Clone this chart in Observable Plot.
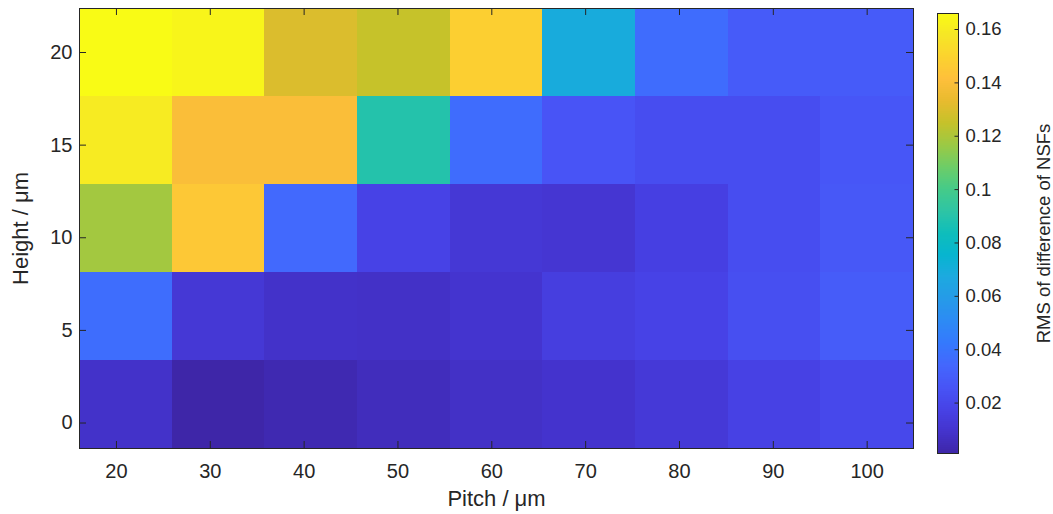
<!DOCTYPE html>
<html><head><meta charset="utf-8">
<script src="https://cdn.jsdelivr.net/npm/d3@7"></script>
<script src="https://cdn.jsdelivr.net/npm/@observablehq/plot@0.6"></script>
<style>
html,body{margin:0;padding:0;background:#fff;}
#chart{display:flex;flex-direction:row;width:1053px;height:514px;}
#chart svg{display:block;}
</style></head><body><div id="chart"></div>
<script>
// ---- data ----
const pitchTicks = [20, 30, 40, 50, 60, 70, 80, 90, 100];
const heightTicks = [0, 5, 10, 15, 20];
const colorTicks = [0.02, 0.04, 0.06, 0.08, 0.1, 0.12, 0.14, 0.16];
// image grid (cell centres, as placed by imagesc)
const pitchCenters = [21, 30.875, 40.75, 50.625, 60.5, 70.375, 80.25, 90.125, 100];
const heightCenters = [1, 5.75, 10.5, 15.25, 20];
// RMS of difference of NSFs, one array per height row (pitch 20..100)
const rmsH0  = [0.0085, 0.0011, 0.0030, 0.0056, 0.0077, 0.0093, 0.0127, 0.0168, 0.0200];
const rmsH5  = [0.0370, 0.0118, 0.0085, 0.0080, 0.0100, 0.0151, 0.0176, 0.0234, 0.0292];
const rmsH10 = [0.1180, 0.1450, 0.0350, 0.0176, 0.0118, 0.0110, 0.0160, 0.0225, 0.0275];
const rmsH15 = [0.1595, 0.1396, 0.1396, 0.0893, 0.0365, 0.0258, 0.0225, 0.0225, 0.0267];
const rmsH20 = [0.1660, 0.1635, 0.1300, 0.1250, 0.1480, 0.0687, 0.0365, 0.0290, 0.0290];
const rmsRows = [rmsH0, rmsH5, rmsH10, rmsH15, rmsH20];

// parula colormap stops (t = 0, 0.05, ..., 1)
const parulaStops = [
  [0.2422,0.1504,0.6603],[0.2661,0.2011,0.8043],[0.2788,0.2598,0.9035],[0.2807,0.3313,0.9636],
  [0.2647,0.4030,0.9935],[0.2066,0.4743,0.9926],[0.1770,0.5430,0.9580],[0.1472,0.6055,0.9105],
  [0.1119,0.6627,0.8770],[0.0260,0.7095,0.8140],[0.0570,0.7435,0.7325],[0.1800,0.7700,0.6450],
  [0.2695,0.7951,0.5360],[0.4287,0.8028,0.4040],[0.6090,0.7887,0.2674],[0.7740,0.7598,0.1645],
  [0.9093,0.7321,0.1815],[0.9970,0.7500,0.2320],[0.9857,0.8249,0.1832],[0.9650,0.9038,0.1473],
  [0.9769,0.9839,0.0805]
];
const parula = d3.piecewise(d3.interpolateRgb, parulaStops.map(([r,g,b]) => d3.rgb(r*255, g*255, b*255)));

// ---- build cells ----
function edges(c) {
  const e = [c[0] - (c[1] - c[0]) / 2];
  for (let i = 1; i < c.length; i++) e.push((c[i-1] + c[i]) / 2);
  e.push(c[c.length-1] + (c[c.length-1] - c[c.length-2]) / 2);
  return e;
}
const xe = edges(pitchCenters), ye = edges(heightCenters);
const cells = [];
heightCenters.forEach((h, j) => pitchCenters.forEach((p, i) =>
  cells.push({x1: xe[i], x2: xe[i+1], y1: ye[j], y2: ye[j+1], v: rmsRows[j][i]})));
const cDomain = d3.extent(cells, d => d.v);

const ink = "#262626";
const font = "'Liberation Sans', Arial, Helvetica, sans-serif";
const H = 514;
const W1 = 925, mL = 79, mR = 12, mT = 8, mB = 66;
const plotW = W1 - mL - mR, plotH = H - mT - mB;
const tk = 7;

const main = Plot.plot({
  width: W1, height: H, marginLeft: mL, marginRight: mR, marginTop: mT, marginBottom: mB,
  style: {fontFamily: font, fontSize: "20px", color: ink, background: "white", overflow: "visible"},
  x: {domain: [xe[0], xe[xe.length-1]], label: null},
  y: {domain: [ye[0], ye[ye.length-1]], label: null},
  color: {type: "linear", domain: cDomain, interpolate: parula},
  marks: [
    Plot.rect(cells, {x1: "x1", x2: "x2", y1: "y1", y2: "y2", fill: "v", shapeRendering: "crispEdges"}),
    Plot.axisX(pitchTicks, {anchor: "bottom", tickSize: 0, tickPadding: 15, label: null, fontSize: 20, fill: ink}),
    Plot.axisY(heightTicks, {anchor: "left", tickSize: 0, tickPadding: 7, label: null, fontSize: 20, fill: ink}),
    Plot.tickX(pitchTicks, {x: d => d, insetTop: plotH - tk, stroke: ink}),
    Plot.tickX(pitchTicks, {x: d => d, insetBottom: plotH - tk, stroke: ink}),
    Plot.tickY(heightTicks, {y: d => d, insetRight: plotW - tk, stroke: ink}),
    Plot.tickY(heightTicks, {y: d => d, insetLeft: plotW - tk, stroke: ink}),
    Plot.frame({stroke: ink, strokeWidth: 1}),
    Plot.text(["Pitch / μm"], {frameAnchor: "bottom", dy: 57, textAnchor: "middle", lineAnchor: "bottom", fontSize: 22, fill: ink}),
    Plot.text(["Height / μm"], {frameAnchor: "left", dx: -52, rotate: -90, textAnchor: "middle", lineAnchor: "bottom", fontSize: 22, fill: ink})
  ]
});

// ---- colorbar ----
const W2 = 1053 - W1, cbL = 12, cbW = 21, cbT = 13, cbB = 61;
const N = 220;
const span = cDomain[1] - cDomain[0];
const ramp = d3.range(N).map(i => ({
  y1: cDomain[0] + span * i / N,
  y2: cDomain[0] + span * (i + 1) / N,
  v: cDomain[0] + span * (i + 0.5) / N
}));
const cbar = Plot.plot({
  width: W2, height: H, marginLeft: cbL, marginRight: W2 - cbL - cbW, marginTop: cbT, marginBottom: cbB,
  style: {fontFamily: font, fontSize: "18.5px", color: ink, background: "white", overflow: "visible"},
  x: {domain: [0, 1], axis: null},
  y: {domain: cDomain, axis: null},
  color: {type: "linear", domain: cDomain, interpolate: parula},
  marks: [
    Plot.rect(ramp, {x1: 0, x2: 1, y1: "y1", y2: "y2", fill: "v", shapeRendering: "crispEdges"}),
    Plot.axisY(colorTicks, {anchor: "right", tickSize: 0, tickPadding: 7, label: null, fontSize: 18.5, fill: ink, tickFormat: d => String(d)}),
    Plot.tickY(colorTicks, {y: d => d, insetLeft: cbW - 3.5, stroke: ink}),
    Plot.frame({stroke: ink, strokeWidth: 1}),
    Plot.text(["RMS of difference of NSFs"], {frameAnchor: "right", dx: 91, rotate: -90, textAnchor: "middle", lineAnchor: "bottom", fontSize: 18.5, fill: ink})
  ]
});

document.getElementById("chart").append(main, cbar);
</script>
</body></html>
